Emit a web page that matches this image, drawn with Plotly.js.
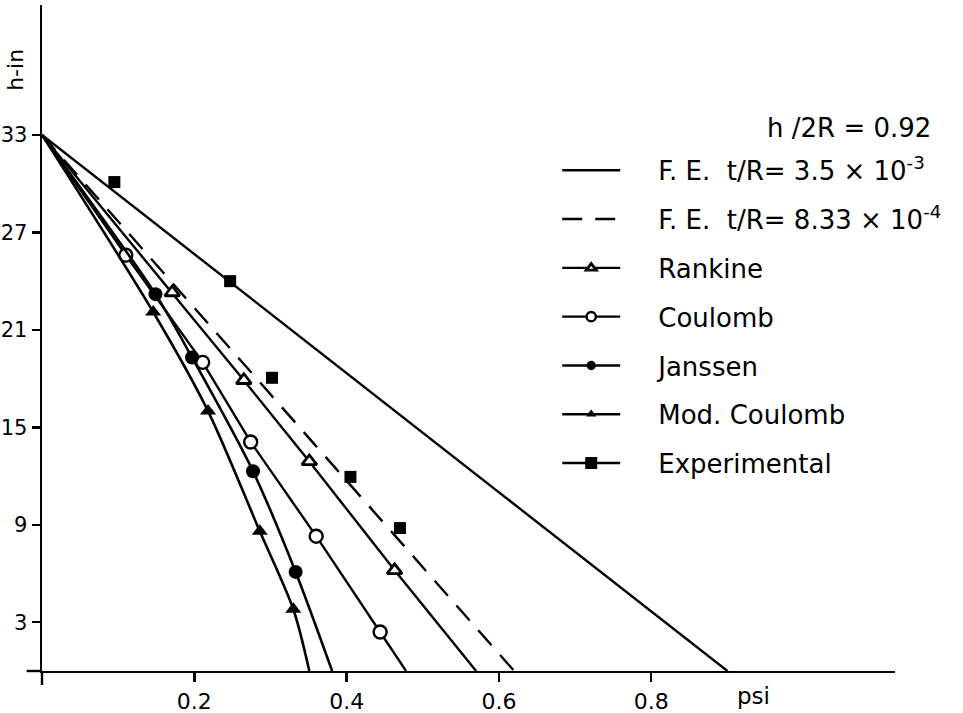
<!DOCTYPE html>
<html>
<head>
<meta charset="utf-8">
<script src="https://cdn.plot.ly/plotly-3.0.1.min.js"></script>
<style>html,body{margin:0;padding:0;background:#fff;}#chart{width:963px;height:713px;}</style>
</head>
<body>
<div id="chart"></div>
<script>
// ---- data (psi vs h-in) ----
var topH = 33;                       // all curves start at h = 33 in, p = 0
var feSolidX = [0, 0.90];            // F.E. t/R = 3.5e-3
var feSolidH = [33, 0];
var feDashX = [0, 0.62];             // F.E. t/R = 8.33e-4
var feDashH = [33, 0];

var rankineX = [0.171, 0.265, 0.351, 0.463];
var rankineH = [23.3, 17.9, 12.9, 6.2];
var rankineEnd = 0.57;

var coulombX = [0.110, 0.211, 0.274, 0.360, 0.444];
var coulombH = [25.6, 19.0, 14.1, 8.3, 2.4];
var coulombEnd = 0.478;

var janssenX = [0.149, 0.197, 0.277, 0.333];
var janssenH = [23.2, 19.3, 12.3, 6.1];
var janssenEnd = 0.381;

var modCoulombX = [0.146, 0.218, 0.286, 0.330];
var modCoulombH = [22.1, 16.0, 8.6, 3.8];
var modCoulombEnd = 0.351;

var experimentalX = [0.095, 0.247, 0.302, 0.405, 0.470];
var experimentalH = [30.1, 24.0, 18.05, 11.95, 8.8];

var xTickVals = [0.2, 0.4, 0.6, 0.8];
var xTickText = ['0.2', '0.4', '0.6', '0.8'];
var yTickVals = [3, 9, 15, 21, 27, 33];
var yTickText = ['3', '9', '15', '21', '27', '33'];

var seriesNames = [
  'F. E.  t/R= 3.5 × 10<sup>-3</sup>',
  'F. E.  t/R= 8.33 × 10<sup>-4</sup>',
  'Rankine', 'Coulomb', 'Janssen', 'Mod. Coulomb', 'Experimental'
];

// ---- helpers ----
var PAD = '\u00a0\u00a0\u00a0\u00a0';
function curveX(xs, end) { return [0].concat(xs, [end]); }
function curveH(hs) { return [topH].concat(hs, [0]); }
function sizes(n, s) { var a = [0]; for (var i = 0; i < n; i++) a.push(s); a.push(0); return a; }
function gapped(arr) { var out = []; arr.forEach(function (v, i) { if (i) out.push(null); out.push(v); }); return out; }

var FONT = 'DejaVu Sans';
var BLK = '#000';
var LW = 2.4;

var traces = [
  { x: feSolidX, y: feSolidH, mode: 'lines', name: PAD + seriesNames[0], legendgroup: 'a',
    line: { color: BLK, width: LW } },
  { x: feDashX, y: feDashH, mode: 'lines', name: PAD + seriesNames[1], legendgroup: 'b',
    line: { color: BLK, width: LW, dash: '20px,13px' } },
  { x: curveX(rankineX, rankineEnd), y: curveH(rankineH), mode: 'lines+markers', name: PAD + seriesNames[2], legendgroup: 'c',
    line: { color: BLK, width: LW },
    marker: { symbol: 'triangle-up', color: '#fff', opacity: 1, size: sizes(rankineX.length, 13), line: { color: BLK, width: 2.8 } } },
  { x: curveX(coulombX, coulombEnd), y: curveH(coulombH), mode: 'lines+markers', name: PAD + seriesNames[3], legendgroup: 'd',
    line: { color: BLK, width: LW },
    marker: { symbol: 'circle', color: '#fff', opacity: 1, size: sizes(coulombX.length, 13), line: { color: BLK, width: 2.4 } } },
  { x: curveX(janssenX, janssenEnd), y: curveH(janssenH), mode: 'lines+markers', name: PAD + seriesNames[4], legendgroup: 'e',
    line: { color: BLK, width: 2.6, shape: 'spline', smoothing: 0.8 },
    marker: { symbol: 'circle', color: BLK, opacity: 1, size: sizes(janssenX.length, 14), line: { width: 0 } } },
  { x: curveX(modCoulombX, modCoulombEnd), y: curveH(modCoulombH), mode: 'lines+markers', name: PAD + seriesNames[5], legendgroup: 'f',
    line: { color: BLK, width: 2.6, shape: 'spline', smoothing: 0.8 },
    marker: { symbol: 'triangle-up', color: BLK, opacity: 1, size: sizes(modCoulombX.length, 14), line: { width: 0 } } },
  { x: gapped(experimentalX), y: gapped(experimentalH), mode: 'lines+markers', name: PAD + seriesNames[6], legendgroup: 'g',
    connectgaps: false, line: { color: BLK, width: LW },
    marker: { symbol: 'square', color: BLK, opacity: 1, size: 12, line: { width: 0 } } }
];

var layout = {
  width: 963, height: 713,
  margin: { l: 42, r: 68, t: 5, b: 42 },
  paper_bgcolor: '#fff', plot_bgcolor: '#fff',
  font: { family: FONT, color: BLK, size: 21 },
  showlegend: true,
  legend: {
    x: 0.604, y: 0.787, xanchor: 'left', yanchor: 'top',
    font: { family: FONT, size: 26, color: BLK },
    bgcolor: 'rgba(0,0,0,0)', borderwidth: 0,
    tracegroupgap: 12, itemwidth: 58
  },
  xaxis: {
    range: [0, 1.12], showgrid: false, zeroline: false,
    showline: true, linecolor: BLK, linewidth: 2.4,
    ticks: 'outside', ticklen: 9, tickwidth: 2.4, tickcolor: BLK,
    tickvals: xTickVals, ticktext: xTickText,
    tickfont: { family: FONT, size: 22, color: BLK }
  },
  yaxis: {
    range: [0, 41], showgrid: false, zeroline: false,
    showline: true, linecolor: BLK, linewidth: 2.4,
    ticks: 'outside', ticklen: 8, tickwidth: 2.4, tickcolor: BLK,
    tickvals: yTickVals, ticktext: yTickText,
    tickfont: { family: FONT, size: 21, color: BLK }
  },
  shapes: [
    { type: 'line', xref: 'paper', yref: 'paper', x0: -0.018, x1: 0, y0: 0, y1: 0, line: { color: BLK, width: 2.4 } },
    { type: 'line', xref: 'paper', yref: 'paper', x0: 0, x1: 0, y0: -0.021, y1: 0, line: { color: BLK, width: 2.4 } }
  ],
  annotations: [
    { text: 'h-in', xref: 'paper', yref: 'paper', x: -0.031, y: 0.902, xanchor: 'center', yanchor: 'middle',
      textangle: -90, showarrow: false, font: { family: FONT, size: 22, color: BLK } },
    { text: 'psi', xref: 'x', yref: 'paper', x: 0.934, y: -0.038, xanchor: 'center', yanchor: 'middle',
      showarrow: false, font: { family: FONT, size: 23, color: BLK } },
    { text: 'h /2R = 0.92', xref: 'paper', yref: 'paper', x: 1.044, y: 0.815, xanchor: 'right', yanchor: 'middle',
      showarrow: false, font: { family: FONT, size: 26, color: BLK } }
  ]
};

Plotly.newPlot('chart', traces, layout, { displayModeBar: false, staticPlot: true });
</script>
</body>
</html>
